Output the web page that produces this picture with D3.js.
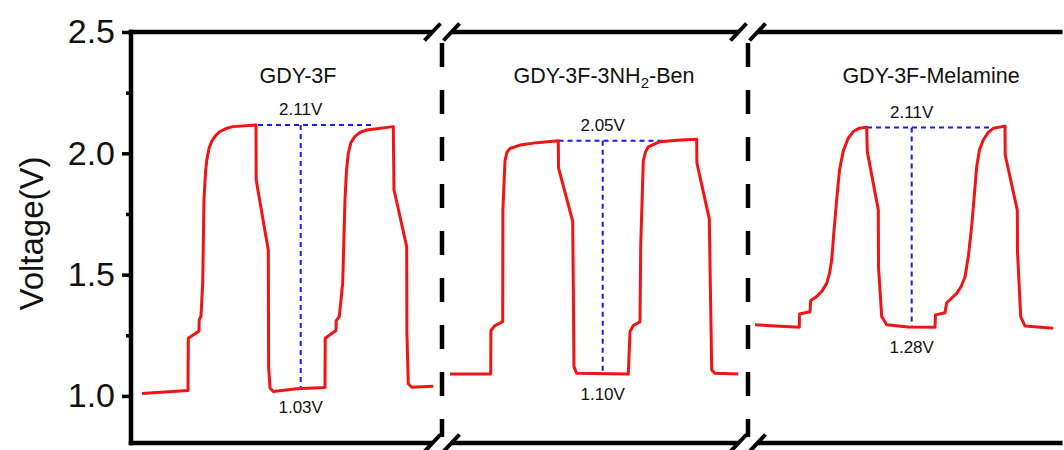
<!DOCTYPE html>
<html lang="en">
<head>
<meta charset="utf-8">
<title>GDY voltage profiles</title>
<script src="https://d3js.org/d3.v7.min.js"></script>
<style>
  body { margin: 0; background: #fff; }
  text { font-family: "Liberation Sans", Arial, sans-serif; fill: #111; }
</style>
</head>
<body>
<script>
// y axis ticks
var yTicks = [1.0, 1.5, 2.0, 2.5];
var yMinor = [1.25, 1.75, 2.25];

// panel names
var panelNames = ["GDY-3F", "GDY-3F-3NH2-Ben", "GDY-3F-Melamine"];

// voltage traces (time in arbitrary units, voltage in V)
var t1 = [11, 57, 57.3, 68, 68.2, 70, 71.7, 73, 74.5, 75.7, 78, 80.7, 85, 89, 95, 102, 125, 125.2, 137.3, 137.6,
          139, 142.3, 165.7, 194, 194.2, 205, 205.2, 208.3, 211.7, 214, 215.5, 217.3, 220, 224, 229, 235.7, 262.3, 263, 275.7, 275.9,
          277.3, 280.7, 302.3];
var v1 = [1.010, 1.022, 1.238, 1.268, 1.313, 1.330, 1.466, 1.810, 1.920, 1.970, 2.020, 2.050, 2.075, 2.090, 2.102, 2.110, 2.117, 1.890, 1.600, 1.120,
          1.033, 1.018, 1.030, 1.035, 1.238, 1.270, 1.310, 1.327, 1.465, 1.810, 1.930, 2.000, 2.045, 2.070, 2.086, 2.096, 2.110, 1.850, 1.615, 1.260,
          1.050, 1.036, 1.040];

var t2 = [8, 48.7, 48.9, 53, 60.7, 60.9, 63, 65, 68, 78, 95, 116.3, 116.5, 130.7, 132, 134.7, 186.3, 188, 191.3, 198,
          198.7, 201.3, 203.5, 206.3, 218, 235, 254.7, 254.9, 267.3, 269.7, 273, 296.3];
var v2 = [1.090, 1.090, 1.270, 1.290, 1.306, 1.766, 1.970, 2.005, 2.020, 2.034, 2.044, 2.052, 1.940, 1.720, 1.120, 1.093, 1.090, 1.265, 1.290, 1.306,
          1.615, 1.970, 2.005, 2.027, 2.048, 2.054, 2.058, 1.960, 1.730, 1.107, 1.093, 1.090];

var t3 = [7, 51.3, 51.5, 62, 62.7, 68.7, 74, 78.7, 81.5, 83.7, 86, 88.7, 91.5, 95.3, 100, 105.3, 111, 118.7, 119.3, 130.3,
          130.5, 133.7, 138.7, 160, 187, 187.5, 197, 198.7, 208.7, 213, 217, 220.5, 223.7, 228.7, 231.5, 235.3, 240, 245.3, 257, 257.2,
          269.3, 269.5, 272.7, 277, 305.3];
var v3 = [1.293, 1.283, 1.338, 1.347, 1.393, 1.410, 1.432, 1.464, 1.505, 1.560, 1.680, 1.810, 1.930, 2.010, 2.060, 2.090, 2.103, 2.107, 2.007, 1.766,
          1.533, 1.327, 1.293, 1.284, 1.283, 1.334, 1.343, 1.384, 1.423, 1.450, 1.490, 1.580, 1.700, 1.945, 2.015, 2.055, 2.085, 2.103, 2.112, 1.993,
          1.766, 1.595, 1.327, 1.288, 1.279];

// blue guide lines (plateau / floor) and their labels
var guideT0 = [127, 116.5, 119];
var guideT1 = [240.7, 221, 245];
var guideMidT = [169.7, 160.7, 163.7];
var guideTopV = [2.117, 2.052, 2.106];
var guideLowV = [1.035, 1.090, 1.283];
var topLabels = ["2.11V", "2.05V", "2.11V"];
var lowLabels = ["1.03V", "1.10V", "1.28V"];

var traces = [[t1, v1], [t2, v2], [t3, v3]];

// layout
var w = 1064, h = 450;
var yTop = 32, yBottom = 443;
var edges = [131, 442, 748, 1072];
var titleOffset = [167, 162, 183];
var axisW = 4.5;

var svg = d3.select("body").append("svg")
  .attr("width", w).attr("height", h);

var y = d3.scaleLinear().domain([0.806, 2.5]).range([yBottom, yTop]);

var xs = [];
for (var i = 0; i < 3; i++) {
  xs.push(d3.scaleLinear().domain([0, edges[i + 1] - edges[i]]).range([edges[i], edges[i + 1]]));
}

// left axis
var gy = svg.append("g").attr("transform", "translate(" + edges[0] + ",0)");
gy.call(d3.axisLeft(y).tickValues(yTicks).tickSize(9).tickPadding(7).tickFormat(d3.format(".1f")));
gy.select(".domain").remove();
gy.selectAll(".tick line").attr("stroke", "#000").attr("stroke-width", 3.5);
gy.selectAll(".tick text").style("font-size", "34px").attr("fill", "#111")
  .style("font-family", "'Liberation Sans', Arial, sans-serif");

var gm = svg.append("g").attr("transform", "translate(" + edges[0] + ",0)");
gm.call(d3.axisLeft(y).tickValues(yMinor).tickSize(5).tickFormat(""));
gm.select(".domain").remove();
gm.selectAll(".tick line").attr("stroke", "#000").attr("stroke-width", 3.5);

svg.append("line")
  .attr("x1", edges[0]).attr("x2", edges[0])
  .attr("y1", yTop - axisW / 2).attr("y2", yBottom + axisW / 2)
  .attr("stroke", "#000").attr("stroke-width", axisW);

svg.append("text")
  .attr("transform", "translate(31," + ((yTop + yBottom) / 2 - 4) + ") rotate(-90)")
  .attr("text-anchor", "middle")
  .attr("dominant-baseline", "central")
  .style("font-size", "33px")
  .text("Voltage(V)");

// top and bottom frame segments with gaps at the breaks
var gap = 9.5;
[yTop, yBottom].forEach(function(yy) {
  for (var i = 0; i < 3; i++) {
    var a = i == 0 ? edges[0] - axisW / 2 : edges[i] + gap;
    var b = edges[i + 1] - gap;
    svg.append("line")
      .attr("x1", a).attr("x2", b).attr("y1", yy).attr("y2", yy)
      .attr("stroke", "#000").attr("stroke-width", axisW);
  }
});

// break markers
[edges[1], edges[2]].forEach(function(cx) {
  svg.append("line")
    .attr("x1", cx).attr("x2", cx)
    .attr("y1", yTop + 11).attr("y2", yBottom - 6)
    .attr("stroke", "#000").attr("stroke-width", 4.5)
    .attr("stroke-dasharray", "24 23");
  [yTop, yBottom].forEach(function(yy) {
    [-gap, gap].forEach(function(dx) {
      svg.append("line")
        .attr("x1", cx + dx - 8).attr("y1", yy + 8.5)
        .attr("x2", cx + dx + 8).attr("y2", yy - 8.5)
        .attr("stroke", "#000").attr("stroke-width", 4);
    });
  });
});

// panels
for (var p = 0; p < 3; p++) {
  var x = xs[p];
  var g = svg.append("g");

  // guides
  g.append("line")
    .attr("x1", x(guideT0[p])).attr("x2", x(guideT1[p]))
    .attr("y1", y(guideTopV[p])).attr("y2", y(guideTopV[p]))
    .attr("stroke", "#1a1aee").attr("stroke-width", 2).attr("stroke-dasharray", "5 4");
  g.append("line")
    .attr("x1", x(guideMidT[p])).attr("x2", x(guideMidT[p]))
    .attr("y1", y(guideTopV[p])).attr("y2", y(guideLowV[p]))
    .attr("stroke", "#1a1aee").attr("stroke-width", 2).attr("stroke-dasharray", "5 4");

  // trace
  var pts = traces[p][0].map(function(t, k) { return [t, traces[p][1][k]]; });
  var line = d3.line()
    .x(function(d) { return x(d[0]); })
    .y(function(d) { return y(d[1]); });
  g.append("path")
    .datum(pts)
    .attr("d", line)
    .attr("fill", "none")
    .attr("stroke", "#f01414")
    .attr("stroke-width", 3)
    .attr("stroke-linejoin", "round");

  // labels
  g.append("text")
    .attr("x", x(guideMidT[p])).attr("y", y(guideTopV[p]) - 15)
    .attr("text-anchor", "middle").attr("dominant-baseline", "central")
    .style("font-size", "17px")
    .text(topLabels[p]);
  g.append("text")
    .attr("x", x(guideMidT[p])).attr("y", y(guideLowV[p]) + 20)
    .attr("text-anchor", "middle").attr("dominant-baseline", "central")
    .style("font-size", "17px")
    .text(lowLabels[p]);

  // title
  var title = g.append("text")
    .attr("x", x(titleOffset[p])).attr("y", 83)
    .attr("text-anchor", "middle")
    .style("font-size", "21.5px");
  var m = panelNames[p].match(/^(.*NH)(2)(.*)$/);
  if (m) {
    title.append("tspan").text(m[1]);
    title.append("tspan").attr("dy", 5).style("font-size", "15px").text(m[2]);
    title.append("tspan").attr("dy", -5).text(m[3]);
  } else {
    title.text(panelNames[p]);
  }
}
</script>
</body>
</html>
